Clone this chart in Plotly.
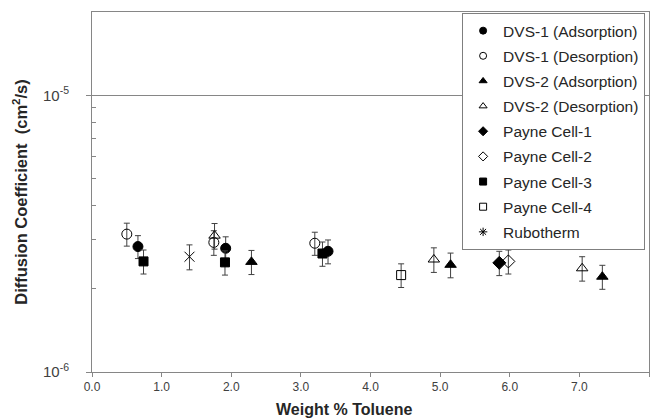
import plotly.graph_objects as go

# ---- data ----
series_names = ["DVS-1 (Adsorption)", "DVS-1 (Desorption)", "DVS-2 (Adsorption)",
                "DVS-2 (Desorption)", "Payne Cell-1", "Payne Cell-2",
                "Payne Cell-3", "Payne Cell-4", "Rubotherm"]

dvs1_ads_x = [0.66, 1.92, 3.39]
dvs1_ads_y = [2.84e-6, 2.80e-6, 2.73e-6]
dvs1_ads_e = [0.27e-6, 0.28e-6, 0.27e-6]

dvs1_des_x = [0.50, 1.75, 3.20]
dvs1_des_y = [3.15e-6, 2.94e-6, 2.92e-6]
dvs1_des_e = [0.30e-6, 0.30e-6, 0.28e-6]

dvs2_ads_x = [2.29, 5.15, 7.33]
dvs2_ads_y = [2.50e-6, 2.44e-6, 2.21e-6]
dvs2_ads_e = [0.25e-6, 0.25e-6, 0.22e-6]

dvs2_des_x = [1.76, 4.91, 7.04]
dvs2_des_y = [3.11e-6, 2.55e-6, 2.37e-6]
dvs2_des_e = [0.33e-6, 0.26e-6, 0.24e-6]

pc1_x = [5.85]
pc1_y = [2.48e-6]
pc1_e = [0.25e-6]

pc2_x = [5.98]
pc2_y = [2.51e-6]
pc2_e = [0.25e-6]

pc3_x = [0.74, 1.91, 3.31]
pc3_y = [2.51e-6, 2.49e-6, 2.68e-6]
pc3_e = [0.25e-6, 0.25e-6, 0.27e-6]

pc4_x = [4.44]
pc4_y = [2.24e-6]
pc4_e = [0.22e-6]

rub_x = [1.40]
rub_y = [2.61e-6]
rub_e = [0.27e-6]

x_tick_vals = [0, 1, 2, 3, 4, 5, 6, 7, 8]
x_tick_text = ["0.0", "1.0", "2.0", "3.0", "4.0", "5.0", "6.0", "7.0", "8.0"]
y_tick_vals = [1e-6, 1e-5]
y_tick_text = ["10<sup>-6</sup>", "10<sup>-5</sup>"]
y_minor_vals = [2e-6, 3e-6, 4e-6, 5e-6, 6e-6, 7e-6, 8e-6, 9e-6]
y_range_log = [-6, -4.69897]   # 1e-6 .. 2e-5
x_title = "Weight % Toluene"
y_title = "Diffusion Coefficient  (cm<sup>2</sup>/s)"

# ---- styles ----
FONT = "Arial, Liberation Sans, sans-serif"
series = [
    (dvs1_ads_x, dvs1_ads_y, dvs1_ads_e, "circle", 10, "circle"),
    (dvs1_des_x, dvs1_des_y, dvs1_des_e, "circle-open", 10, "circle-open"),
    (dvs2_ads_x, dvs2_ads_y, dvs2_ads_e, "triangle-up", 10, "triangle-up"),
    (dvs2_des_x, dvs2_des_y, dvs2_des_e, "triangle-up-open", 10, "triangle-up-open"),
    (pc1_x, pc1_y, pc1_e, "diamond", 10, "diamond"),
    (pc2_x, pc2_y, pc2_e, "diamond-open", 10, "diamond-open"),
    (pc3_x, pc3_y, pc3_e, "square", 9, "square"),
    (pc4_x, pc4_y, pc4_e, "square-open", 9, "square-open"),
    (rub_x, rub_y, rub_e, "x-thin-open", 10, "asterisk-open"),
]

fig = go.Figure()
for name, (xs, ys, es, sym, size, lsym) in zip(series_names, series):
    fig.add_trace(go.Scatter(
        x=xs, y=ys, mode="markers", name=name, showlegend=False,
        marker=dict(symbol=sym, size=size, color="black",
                    line=dict(color="black", width=1)),
        error_y=dict(type="data", array=es, visible=True,
                     color="#404040", thickness=1, width=3),
    ))
for name, (xs, ys, es, sym, size, lsym) in zip(series_names, series):
    fig.add_trace(go.Scatter(
        x=[None], y=[None], mode="markers", name=name, legendgroup=name,
        marker=dict(symbol=lsym, size=7, color="black",
                    line=dict(color="black", width=1)),
    ))

fig.update_layout(
    width=657, height=420,
    margin=dict(l=92, r=8, t=12, b=48, autoexpand=False),
    paper_bgcolor="white", plot_bgcolor="white",
    font=dict(family=FONT, size=12, color="#404040"),
    showlegend=True,
    legend=dict(x=0.993, y=0.997, xanchor="right", yanchor="top",
                bgcolor="white", bordercolor="#7f7f7f", borderwidth=1,
                font=dict(family=FONT, size=15.5, color="#262626"),
                tracegroupgap=2, itemwidth=30),
    annotations=[dict(text="<b>" + x_title + "</b>", xref="paper", yref="paper",
                      x=0.4526, y=0, xanchor="center", yanchor="top", yshift=-27,
                      showarrow=False,
                      font=dict(family=FONT, size=16, color="#262626"))],
)
fig.update_xaxes(
    range=[0, 8], tickvals=x_tick_vals, ticktext=x_tick_text,
    showgrid=False, zeroline=False, automargin=False,
    showline=True, mirror=True, linecolor="#868686", linewidth=1,
    ticks="outside", ticklen=4, tickcolor="#868686",
    tickfont=dict(family=FONT, size=12, color="#404040"),
)
fig.update_yaxes(
    type="log", range=y_range_log,
    tickvals=y_tick_vals, ticktext=y_tick_text,
    showgrid=True, gridcolor="#868686", gridwidth=1, zeroline=False,
    automargin=False,
    showline=True, mirror=True, linecolor="#868686", linewidth=1,
    ticks="outside", ticklen=5, tickcolor="#868686",
    ticklabelstandoff=14,
    tickfont=dict(family=FONT, size=15, color="#404040"),
    minor=dict(tickvals=y_minor_vals, ticks="inside", ticklen=4,
               tickcolor="#868686", showgrid=False),
    title=dict(text="<b>" + y_title + "</b>", standoff=11,
               font=dict(family=FONT, size=16.5, color="#262626")),
)

fig.write_html("out.html", config={"displayModeBar": False},
               post_script="document.body.style.margin='0';")
